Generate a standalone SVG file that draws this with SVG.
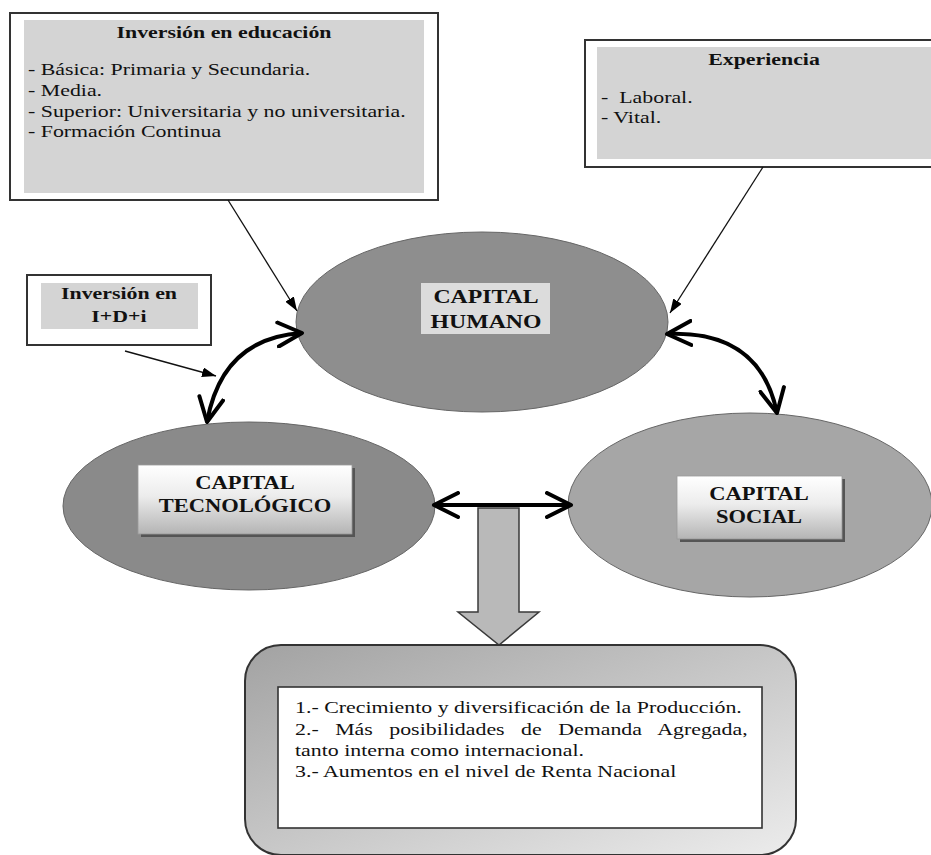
<svg xmlns="http://www.w3.org/2000/svg" width="931" height="855" viewBox="0 0 931 855">
  <style>
    .t { font-family: "Liberation Serif", "Times New Roman", serif; font-size: 17.5px; fill: #111; }
    .b { font-weight: bold; }
    .cap { font-family: "Liberation Serif", "Times New Roman", serif; font-weight: bold; font-size: 18px; fill: #111; }
    .outer { fill: #ffffff; stroke: #333; stroke-width: 2; }
    .inner { fill: #d4d4d4; }
    .thin { fill: none; stroke: #111; stroke-width: 1.3; }
    .thick { fill: none; stroke: #000; stroke-width: 4; }
    .ell { stroke: #666; stroke-width: 1; }
  </style>
  <defs>
    <marker id="tri" viewBox="0 0 14 10" refX="14" refY="5" markerWidth="14" markerHeight="10" markerUnits="userSpaceOnUse" orient="auto">
      <path d="M0 0 L14 5 L0 10 Z" fill="#000"/>
    </marker>
    <marker id="chev" viewBox="-26 -14 30 28" refX="0" refY="0" markerWidth="30" markerHeight="28" markerUnits="userSpaceOnUse" orient="auto-start-reverse">
      <path d="M-24 -12 L0 0 L-24 12" fill="none" stroke="#000" stroke-width="4" stroke-linecap="round" stroke-linejoin="round"/>
    </marker>
    <linearGradient id="lbl" x1="0" y1="0" x2="0" y2="1">
      <stop offset="0" stop-color="#ffffff"/>
      <stop offset="0.45" stop-color="#ececec"/>
      <stop offset="1" stop-color="#b4b4b4"/>
    </linearGradient>
    <linearGradient id="panel" x1="0" y1="0" x2="1" y2="1">
      <stop offset="0" stop-color="#a2a2a2"/>
      <stop offset="1" stop-color="#ececec"/>
    </linearGradient>
  </defs>

  <!-- Investment in education -->
  <g id="inversion-educacion">
    <rect class="outer" x="10" y="13" width="428" height="187"/>
    <rect class="inner" x="24" y="20" width="400" height="173"/>
    <text class="t b" transform="translate(224 38) scale(1.25 1)" text-anchor="middle">Inversión en educación</text>
    <text class="t" transform="translate(28 75) scale(1.25 1)">- Básica: Primaria y Secundaria.</text>
    <text class="t" transform="translate(28 96) scale(1.25 1)">- Media.</text>
    <text class="t" transform="translate(28 117) scale(1.25 1)">- Superior: Universitaria y no universitaria.</text>
    <text class="t" transform="translate(28 137) scale(1.25 1)">- Formación Continua</text>
  </g>

  <!-- Experience -->
  <g id="experiencia">
    <rect class="outer" x="585" y="40" width="352" height="127"/>
    <rect class="inner" x="597" y="47" width="340" height="112"/>
    <text class="t b" transform="translate(764 65) scale(1.25 1)" text-anchor="middle">Experiencia</text>
    <text class="t" transform="translate(601 103) scale(1.25 1)" xml:space="preserve">-  Laboral.</text>
    <text class="t" transform="translate(601 123) scale(1.25 1)">- Vital.</text>
  </g>

  <!-- R&D investment -->
  <g id="inversion-idi">
    <rect class="outer" x="27" y="275" width="184" height="70"/>
    <rect class="inner" x="41" y="283" width="157" height="46"/>
    <text class="t b" transform="translate(119 299) scale(1.25 1)" text-anchor="middle">Inversión en</text>
    <text class="t b" transform="translate(119 322) scale(1.25 1)" text-anchor="middle">I+D+i</text>
  </g>

  <!-- Human capital -->
  <g id="capital-humano">
    <ellipse class="ell" cx="482" cy="322" rx="186" ry="90" fill="#8e8e8e"/>
    <rect x="421" y="283" width="129" height="51" fill="#dcdcdc"/>
    <text class="cap" style="font-size:19px" transform="translate(486 303) scale(1.25 1)" text-anchor="middle">CAPITAL</text>
    <text class="cap" style="font-size:19px" transform="translate(486 328) scale(1.25 1)" text-anchor="middle">HUMANO</text>
  </g>

  <!-- Technological capital -->
  <g id="capital-tecnologico">
    <ellipse class="ell" cx="249" cy="506" rx="186" ry="84" fill="#8a8a8a"/>
    <rect x="141" y="468" width="214" height="69" fill="#555"/>
    <rect x="138" y="465" width="214" height="69" fill="url(#lbl)" stroke="#999" stroke-width="0.8"/>
    <text class="cap" transform="translate(245 489) scale(1.25 1)" text-anchor="middle">CAPITAL</text>
    <text class="cap" transform="translate(245 512) scale(1.25 1)" text-anchor="middle">TECNOLÓGICO</text>
  </g>

  <!-- Social capital -->
  <g id="capital-social">
    <ellipse class="ell" cx="750" cy="505" rx="182" ry="92" fill="#a6a6a6"/>
    <rect x="680" y="479" width="165" height="63" fill="#555"/>
    <rect x="677" y="476" width="165" height="63" fill="url(#lbl)" stroke="#999" stroke-width="0.8"/>
    <text class="cap" transform="translate(759 500) scale(1.25 1)" text-anchor="middle">CAPITAL</text>
    <text class="cap" transform="translate(759 523) scale(1.25 1)" text-anchor="middle">SOCIAL</text>
  </g>

  <!-- Block arrow towards the results -->
  <g id="flecha-resultado">
    <polygon points="478,508 519,508 519,612 539,612 499,645 458,612 478,612" fill="#b9b9b9" stroke="#3a3a3a" stroke-width="1.5" stroke-linejoin="miter"/>
  </g>

  <!-- Results -->
  <g id="resultados">
    <rect x="245" y="645" width="551" height="210" rx="36" ry="36" fill="url(#panel)" stroke="#333" stroke-width="2"/>
    <rect x="278" y="687" width="484" height="141" fill="#ffffff" stroke="#333" stroke-width="1.6"/>
    <text class="t" transform="translate(295 713) scale(1.25 1)">1.- Crecimiento y diversificación de la Producción.</text>
    <text class="t" style="word-spacing:8.8px" transform="translate(295 735) scale(1.25 1)">2.- Más posibilidades de Demanda Agregada,</text>
    <text class="t" transform="translate(295 756) scale(1.25 1)">tanto interna como internacional.</text>
    <text class="t" transform="translate(295 777) scale(1.25 1)">3.- Aumentos en el nivel de Renta Nacional</text>
  </g>

  <!-- Connectors -->
  <g id="conectores">
    <line class="thin" x1="228" y1="200" x2="297" y2="311" marker-end="url(#tri)"/>
    <line class="thin" x1="763" y1="167" x2="670" y2="313" marker-end="url(#tri)"/>
    <line class="thin" x1="125" y1="351" x2="216" y2="376" marker-end="url(#tri)"/>
    <path class="thick" d="M302 333 Q222 338 207 422" marker-start="url(#chev)" marker-end="url(#chev)"/>
    <path class="thick" d="M667 334 Q760 330 777 413" marker-start="url(#chev)" marker-end="url(#chev)"/>
    <line class="thick" x1="434" y1="505" x2="571" y2="505" marker-start="url(#chev)" marker-end="url(#chev)"/>
  </g>
</svg>
